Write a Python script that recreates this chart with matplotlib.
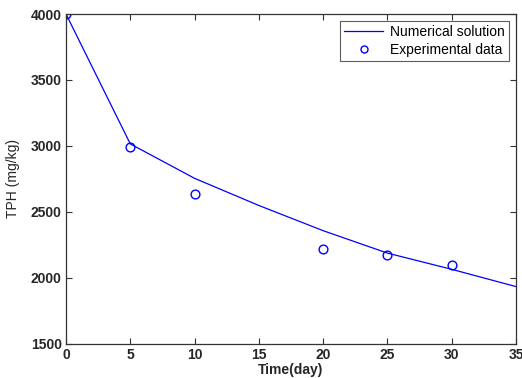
import matplotlib
matplotlib.use("Agg")
import matplotlib.pyplot as plt

# Data
num_t = [0, 5, 10, 15, 20, 25, 30, 35]
num_tph = [4000, 3015, 2754, 2548, 2357, 2187, 2064, 1933]
exp_t = [0, 5, 10, 20, 25, 30]
exp_tph = [4000, 2993, 2633, 2215, 2172, 2100]

plt.rcParams['font.family'] = ['Liberation Sans', 'DejaVu Sans']

fig = plt.figure(figsize=(5.22, 3.78), dpi=100)
ax = fig.add_axes([66/522, 1-343.7/378, (516-66)/522, (343.7-14)/378])

ax.plot(num_t, num_tph, color='#0000ff', lw=0.9, label='Numerical solution')
ax.plot(exp_t, exp_tph, linestyle='none', marker='o', markersize=6.3,
        markerfacecolor='none', markeredgecolor='#0000ff', markeredgewidth=1.0,
        label='Experimental data')

ax.set_xlim(0, 35)
ax.set_ylim(1500, 4000)
ax.set_xticks([0, 5, 10, 15, 20, 25, 30, 35])
ax.set_yticks([1500, 2000, 2500, 3000, 3500, 4000])
ax.tick_params(direction='in', top=True, right=True, length=4, width=0.8,
               labelsize=10, color='#333333', pad=3)
for lab in ax.get_xticklabels() + ax.get_yticklabels():
    lab.set_fontweight('bold')
    lab.set_color('#262626')
for s in ax.spines.values():
    s.set_color('#333333')
    s.set_linewidth(0.9)

ax.set_xlabel('Time(day)', fontsize=10, fontweight='bold', color='#262626', labelpad=1)
ax.set_ylabel('TPH (mg/kg)', fontsize=10, color='#262626', labelpad=8)

leg = ax.legend(loc='upper right', fontsize=10, frameon=True, fancybox=False,
                edgecolor='#333333', borderaxespad=0.5, handlelength=2.8,
                borderpad=0.3, labelspacing=0.3, handletextpad=0.5,
                markerscale=0.8)
leg.get_frame().set_linewidth(0.8)

fig.savefig('out.png', dpi=100)
